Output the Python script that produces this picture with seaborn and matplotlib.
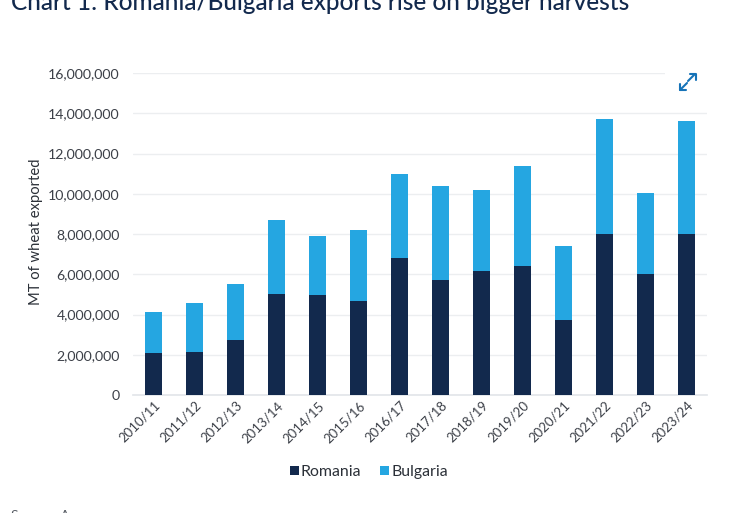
import matplotlib
matplotlib.use("Agg")
import matplotlib.pyplot as plt
import matplotlib.ticker as mticker
from matplotlib.lines import Line2D
import pandas as pd
import seaborn as sns

seasons = ["2010/11","2011/12","2012/13","2013/14","2014/15","2015/16","2016/17",
           "2017/18","2018/19","2019/20","2020/21","2021/22","2022/23","2023/24"]
romania = [2.1e6,2.15e6,2.75e6,5.0e6,4.95e6,4.65e6,6.8e6,5.7e6,6.15e6,6.4e6,3.75e6,8.0e6,6.0e6,8.0e6]
bulgaria = [2.0e6,2.4e6,2.75e6,3.7e6,2.95e6,3.55e6,4.2e6,4.7e6,4.05e6,5.0e6,3.65e6,5.7e6,4.05e6,5.6e6]
yticks = [0,2e6,4e6,6e6,8e6,10e6,12e6,14e6,16e6]

NAVY = "#12294d"; BLUE = "#25a6e1"; TEXT = "#3c4048"
W, H = 747, 513
sns.set_theme(style="white")
plt.rcParams["font.family"] = ["Lato", "DejaVu Sans"]

df = pd.DataFrame({"season": seasons, "Romania": romania, "Bulgaria": bulgaria})
fig = plt.figure(figsize=(W/100, H/100), dpi=100)
ax = fig.add_axes([133/W, 1-395/H, (707-133)/W, (395-73)/H])
sns.barplot(data=df, x="season", y="Romania", color=NAVY, width=0.42, saturation=1, ax=ax, zorder=3, label="Romania")
sns.barplot(data=df, x="season", y="Bulgaria", bottom=df["Romania"], color=BLUE, width=0.42, saturation=1, ax=ax, zorder=3, label="Bulgaria")
ax.set_ylim(0, 16e6)
ax.set_xlim(-0.5, 13.5)
ax.set_yticks(yticks)
ax.yaxis.set_major_formatter(mticker.FuncFormatter(lambda v, _: f"{int(v):,}"))
ax.grid(axis="y", color="#eceef0", lw=1, zorder=0)
ax.set_axisbelow(True)
for s in ["top", "right", "left"]:
    ax.spines[s].set_visible(False)
ax.spines["bottom"].set_color("#e3e6ea")
for bar in ax.patches:
    bar.set_edgecolor("none")
ax.tick_params(axis="y", length=0, pad=9.5, labelsize=10.2, labelcolor=TEXT)
ax.tick_params(axis="x", length=0, pad=3, labelsize=9.5, labelcolor=TEXT)
for lab in ax.get_xticklabels():
    lab.set_rotation(45); lab.set_ha("right"); lab.set_rotation_mode("anchor")
ax.set_xlabel("")
ax.set_ylabel("")
fig.text(36/W, 1-232/H, "MT of wheat exported", fontsize=10.6, color="#2b3038",
         rotation=90, va="center", ha="center")

# white patch behind the expand icon, interrupting the top gridline
fig.patches.append(plt.Rectangle((665/W, 1-100/H), 45/W, 32/H, transform=fig.transFigure,
                                 facecolor="white", edgecolor="none", zorder=5))
icon_paths = [
    [(688, 81), (695, 74)], [(690, 74), (696, 74), (696, 80)],
    [(687, 83), (680, 90)], [(680, 84), (680, 90), (686, 90)],
]
for path in icon_paths:
    fig.add_artist(Line2D([p[0]/W for p in path], [1-p[1]/H for p in path], transform=fig.transFigure,
                          color="#1673b8", lw=1.5, zorder=6, solid_capstyle="round"))

fig.text(11/W, 1-3/H, "Chart 1: Romania/Bulgaria exports rise on bigger harvests",
         fontsize=17.6, color="#12294d", va="center", ha="left", fontweight="medium")

handles, labels = ax.get_legend_handles_labels()
if ax.get_legend() is not None:
    ax.get_legend().remove()
leg = fig.legend(handles, labels, loc="center", bbox_to_anchor=(369/W, 1-472/H), ncol=2, frameon=False,
           fontsize=11.4, handlelength=0.55, handleheight=0.55, handletextpad=0.15, columnspacing=1.2,
           labelcolor="#2b3038")
fig.text(11/W, 1-516/H, "Source: Argus", fontsize=10, color="#555a62", va="center", ha="left")
fig.savefig("out.png", dpi=100)
